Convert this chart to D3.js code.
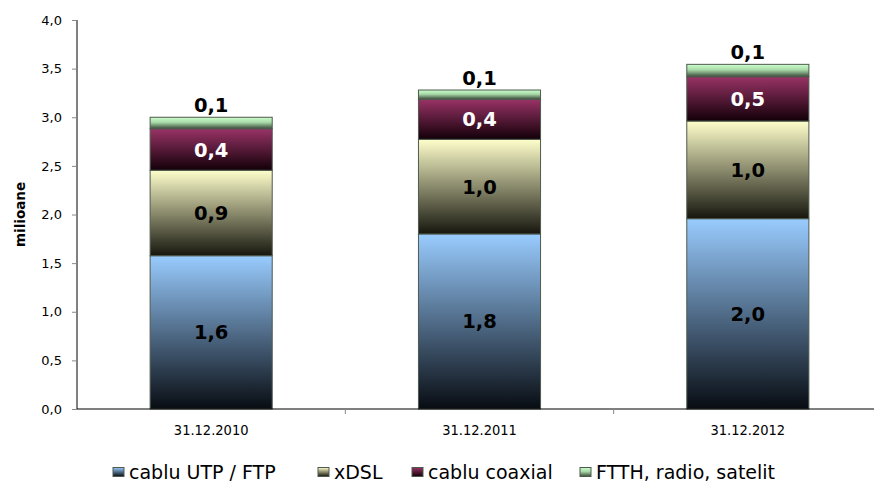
<!DOCTYPE html>
<html>
<head>
<meta charset="utf-8">
<script src="https://cdn.jsdelivr.net/npm/d3@7"></script>
<style>
  html, body { margin: 0; padding: 0; background: #fff; }
  svg { display: block; }
</style>
</head>
<body>
<svg id="chart" width="874" height="482"></svg>
<script>
// Broadband connections by access technology (millions)
const categories = ["31.12.2010", "31.12.2011", "31.12.2012"];
const seriesNames = ["cablu UTP / FTP", "xDSL", "cablu coaxial", "FTTH, radio, satelit"];
const cabluUtpFtp = [1.576, 1.800, 1.957];
const xdsl = [0.879, 0.973, 1.004];
const cabluCoaxial = [0.427, 0.412, 0.456];
const ftthRadioSatelit = [0.118, 0.095, 0.127];
const yTicks = [0, 0.5, 1.0, 1.5, 2.0, 2.5, 3.0, 3.5, 4.0];

const seriesValues = [cabluUtpFtp, xdsl, cabluCoaxial, ftthRadioSatelit];
const topColors = ["#99ccff", "#ffffcc", "#993366", "#ccffcc"];
const bottomColors = ["#080c12", "#16160e", "#120008", "#3a4a3a"];
const labelColors = ["#000", "#000", "#fff", "#000"];

const rows = categories.map((c, i) => {
  const r = { cat: c };
  seriesNames.forEach((s, j) => r[s] = seriesValues[j][i]);
  return r;
});
const stacked = d3.stack().keys(seriesNames)(rows);

const svg = d3.select("#chart");
const margin = { left: 77, top: 20, right: 882, bottom: 409 };

const x = d3.scaleBand().domain(categories).range([margin.left, margin.right]).paddingInner(0.545).paddingOuter(0.2725);
const y = d3.scaleLinear().domain([0, 4]).range([margin.bottom, margin.top]);

const defs = svg.append("defs");
seriesNames.forEach((s, i) => {
  const g = defs.append("linearGradient").attr("id", "grad" + i)
    .attr("x1", 0).attr("y1", 0).attr("x2", 0).attr("y2", 1);
  g.append("stop").attr("offset", "0%").attr("stop-color", topColors[i]);
  if (i === 3) g.append("stop").attr("offset", "45%").attr("stop-color", "#a8d8a8");
  g.append("stop").attr("offset", "100%").attr("stop-color", bottomColors[i]);
});

// Bars
const layers = svg.append("g").selectAll("g").data(stacked).join("g")
  .attr("fill", (d, i) => `url(#grad${i})`);
layers.selectAll("rect").data(d => d).join("rect")
  .attr("x", d => x(d.data.cat))
  .attr("width", x.bandwidth())
  .attr("y", d => y(d[1]))
  .attr("height", d => y(d[0]) - y(d[1]))
  .attr("stroke", "#4e5a4e")
  .attr("stroke-width", 1);

// Value labels
const fmt = v => d3.format(".1f")(v).replace(".", ",");
stacked.forEach((layer, i) => {
  svg.append("g").selectAll("text").data(layer).join("text")
    .attr("x", d => x(d.data.cat) + x.bandwidth() / 2)
    .attr("y", d => i === 3 ? y(d[1]) - 12 : (y(d[0]) + y(d[1])) / 2)
    .attr("dy", "0.36em")
    .attr("text-anchor", "middle")
    .attr("font-family", "DejaVu Sans, Verdana, sans-serif")
    .attr("font-weight", "bold")
    .attr("font-size", 19.5)
    .attr("fill", labelColors[i])
    .text(d => fmt(d[1] - d[0]));
});

// Y axis
const yAxis = svg.append("g").attr("transform", `translate(${margin.left},0)`)
  .call(d3.axisLeft(y).tickValues(yTicks).tickSize(5).tickPadding(10)
    .tickFormat(d => d3.format(".1f")(d).replace(".", ",")));
yAxis.select(".domain").attr("stroke", "#000").attr("d", `M0,${margin.bottom}V${margin.top}`);
yAxis.selectAll(".tick line").attr("stroke", "#888");
yAxis.selectAll("text").attr("font-family", "DejaVu Sans, Verdana, sans-serif")
  .attr("font-size", 13).attr("fill", "#000");

// X axis
const xAxis = svg.append("g").attr("transform", `translate(0,${margin.bottom})`)
  .call(d3.axisBottom(x).tickSize(0).tickPadding(15.7));
xAxis.select(".domain").attr("stroke", "#000").attr("d", `M${margin.left},0H${margin.right}`);
xAxis.selectAll("text").attr("font-family", "DejaVu Sans Condensed, DejaVu Sans, sans-serif")
  .attr("font-size", 14.5).attr("fill", "#000");
// category separator ticks
const step = x.step();
categories.slice(1).forEach(c => {
  const bx = x(c) - (step - x.bandwidth()) / 2;
  xAxis.append("line").attr("x1", bx).attr("x2", bx).attr("y1", 0).attr("y2", 5).attr("stroke", "#888");
});

// Y axis title
svg.append("text")
  .attr("transform", `translate(25,${(margin.top + margin.bottom) / 2}) rotate(-90)`)
  .attr("text-anchor", "middle")
  .attr("font-family", "DejaVu Sans, Verdana, sans-serif")
  .attr("font-weight", "bold")
  .attr("font-size", 13.5)
  .text("milioane");

// Legend
const legendX = [113, 318, 412, 580];
const legend = svg.append("g");
seriesNames.forEach((s, i) => {
  legend.append("rect").attr("x", legendX[i]).attr("y", 467.5).attr("width", 11).attr("height", 9)
    .attr("fill", `url(#grad${i})`).attr("stroke", "#4e5a4e").attr("stroke-width", 1);
  legend.append("text").attr("x", legendX[i] + 16).attr("y", 479)
    .attr("font-family", "DejaVu Sans, Verdana, sans-serif")
    .attr("font-size", 19).attr("fill", "#000")
    .text(s);
});
</script>
</body>
</html>
